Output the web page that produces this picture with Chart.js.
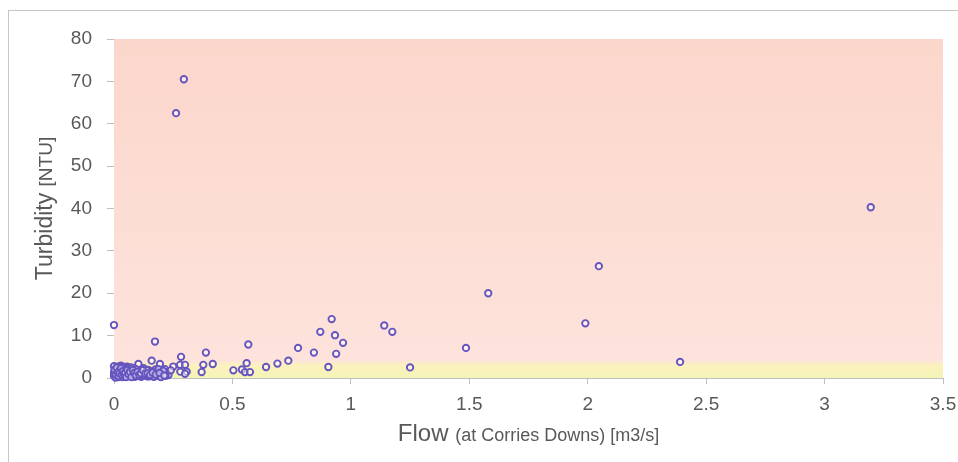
<!DOCTYPE html>
<html>
<head>
<meta charset="utf-8">
<script src="https://cdn.jsdelivr.net/npm/chart.js@4"></script>
<style>
  html, body { margin: 0; padding: 0; background: #fff; overflow: hidden; }
  #wrap { position: relative; width: 958px; height: 462px; }
  #frame { position: absolute; left: 8px; top: 10px; width: 1000px; height: 500px; border: 1px solid #c6c6c6; box-sizing: border-box; }
  canvas { position: absolute; left: 0; top: 0; }
</style>
</head>
<body>
<div id="wrap">
  <div id="frame"></div>
  <canvas id="chart" width="958" height="462"></canvas>
</div>
<script>
// Flow (m3/s) and turbidity (NTU)
const flow = [
  0.295, 0.262, 3.195, 2.047, 1.58, 1.99, 2.39,
  1.141, 1.175, 1.25, 1.486,
  0.919, 0.871, 0.933, 0.967, 0.938, 0.905, 0.844, 0.777, 0.736, 0.69, 0.642,
  0.567, 0.56, 0.54, 0.553, 0.574, 0.504,
  0.388, 0.417, 0.377, 0.37, 0.283, 0.279, 0.3, 0.25, 0.28, 0.307, 0.3,
  0, 0.173, 0.159, 0.103, 0.194,
  0, 0, 0.005, 0.008, 0.01, 0.012, 0.015, 0.018, 0.02, 0.022, 0.025, 0.028, 0.03, 0.032,
  0.035, 0.038, 0.04, 0.043, 0.046, 0.05, 0.052, 0.055, 0.058, 0.06, 0.064, 0.068, 0.072,
  0.076, 0.08, 0.085, 0.09, 0.095, 0.1, 0.105, 0.11, 0.115, 0.12, 0.125, 0.13, 0.135,
  0.14, 0.145, 0.15, 0.155, 0.16, 0.165, 0.17, 0.175, 0.18, 0.185, 0.19, 0.195, 0.2,
  0.205, 0.21, 0.215, 0.22, 0.23, 0.24,
  0, 0.003, 0.006, 0.01, 0.014, 0.017, 0.021, 0.024, 0.027, 0.031, 0.036, 0.041, 0.045,
  0.048, 0.053, 0.057, 0.062, 0.066, 0.07, 0.074, 0.078, 0.083, 0.088, 0.093, 0.098,
  0.108, 0.118, 0.128, 0.138, 0.148, 0.158, 0.168, 0.178, 0.188, 0.198, 0.208, 0.218,
  0.002, 0.007, 0.011, 0.016, 0.019, 0.023, 0.029, 0.033, 0.037, 0.042, 0.047, 0.051,
  0.056, 0.061, 0.067, 0.073, 0.079, 0.086, 0.092, 0.099, 0.107, 0.113, 0.122, 0.132,
  0.142, 0.152, 0.162, 0.176, 0.192, 0.212
];
const turbidity = [
  70.5, 62.5, 40.3, 26.4, 20.0, 12.9, 3.8,
  12.4, 10.9, 2.5, 7.1,
  13.9, 10.9, 10.1, 8.3, 5.7, 2.6, 6.0, 7.1, 4.1, 3.4, 2.6,
  7.9, 3.5, 2.0, 1.4, 1.4, 1.8,
  6.0, 3.3, 3.1, 1.4, 5.0, 3.1, 3.1, 2.7, 1.5, 1.5, 1.0,
  12.5, 8.6, 4.1, 3.3, 3.3,
  0.5, 1.2, 2.0, 0.3, 1.6, 2.6, 0.9, 0.2, 1.3, 2.2, 0.6, 1.8, 2.9, 0.4,
  1.0, 2.4, 1.5, 0.7, 2.0, 0.3, 1.2, 2.7, 0.9, 1.7, 0.5, 2.2, 1.1,
  0.4, 1.6, 0.8, 2.0, 1.3, 0.5, 1.8, 1.0, 0.3, 1.5, 2.3, 0.8, 1.2,
  0.4, 1.9, 0.9, 1.4, 0.6, 1.6, 1.1, 2.0, 0.5, 1.3, 0.9, 1.7, 0.4,
  1.2, 0.8, 2.1, 1.4, 0.7, 1.8,
  2.8, 1.5, 0.1, 2.3, 0.6, 1.9, 0.5, 2.8, 1.1, 2.0, 0.2, 2.6, 0.9,
  2.2, 1.7, 0.6, 2.4, 1.0, 2.5, 0.8, 2.4, 1.2, 0.3, 2.1, 0.7,
  1.3, 2.0, 0.6, 1.8, 0.4, 1.0, 0.3, 1.4, 2.1, 0.2, 1.7, 0.5,
  1.9, 0.8, 2.5, 1.4, 0.4, 1.1, 2.3, 0.7, 1.6, 0.9, 1.3, 0.2,
  1.9, 0.9, 1.5, 0.2, 1.9, 1.2, 0.6, 1.5, 0.7, 1.1, 1.8, 1.0,
  1.1, 0.7, 1.3, 0.8, 1.2, 0.6
];
const xTicks = [0, 0.5, 1, 1.5, 2, 2.5, 3, 3.5];
const yTicks = [0, 10, 20, 30, 40, 50, 60, 70, 80];
// background bands (NTU): yellow below, pink above
const bandLimits = [0, 3, 4.2, 80];

const points = flow.map((x, i) => ({ x: x, y: turbidity[i] }));
const txt = "#595959";
const axisCol = "#bfbfbf";
const font = "'Liberation Sans', Arial, sans-serif";

// Plot area fill
const bgPlugin = {
  id: "bg",
  beforeDatasetsDraw(chart) {
    const { ctx, chartArea: a, scales: { y } } = chart;
    const g = ctx.createLinearGradient(0, a.bottom, 0, a.top);
    const f = v => (a.bottom - y.getPixelForValue(v)) / (a.bottom - a.top);
    g.addColorStop(f(bandLimits[0]), "#f4f4b6");
    g.addColorStop(f(bandLimits[1]), "#fbf1bd");
    g.addColorStop(f(bandLimits[2]), "#fde3dc");
    g.addColorStop(f(bandLimits[3]), "#fbd6cb");
    ctx.save();
    ctx.fillStyle = g;
    ctx.fillRect(a.left, a.top, a.right - a.left, a.bottom - a.top);
    ctx.restore();
  }
};

// Axis titles with a larger main word and smaller unit text
function mixedText(ctx, parts, cx, cy) {
  let total = 0;
  parts.forEach(p => { ctx.font = p.size + "px " + font; p.w = ctx.measureText(p.t).width; total += p.w; });
  let x = cx - total / 2;
  parts.forEach(p => { ctx.font = p.size + "px " + font; ctx.fillText(p.t, x, cy); x += p.w; });
}
const titlePlugin = {
  id: "titles",
  afterDraw(chart) {
    const { ctx, chartArea: a } = chart;
    ctx.save();
    ctx.fillStyle = txt;
    ctx.textAlign = "left";
    ctx.textBaseline = "alphabetic";
    mixedText(ctx, [{ t: "Flow ", size: 24 }, { t: "(at Corries Downs) [m3/s]", size: 18 }], (a.left + a.right) / 2, 441);
    ctx.translate(52, (a.top + a.bottom) / 2);
    ctx.rotate(-Math.PI / 2);
    mixedText(ctx, [{ t: "Turbidity ", size: 23 }, { t: "[NTU]", size: 19 }], 0, 0);
    ctx.restore();
  }
};

new Chart(document.getElementById("chart"), {
  type: "scatter",
  data: {
    datasets: [{
      data: points,
      clip: false,
      pointRadius: 3.2,
      pointHoverRadius: 3.2,
      borderWidth: 1.9,
      borderColor: "#6654bf",
      backgroundColor: "rgba(255,255,255,0.5)"
    }]
  },
  options: {
    responsive: false,
    animation: false,
    layout: { padding: { top: 39, right: 15, left: 0, bottom: 0 } },
    plugins: { legend: { display: false }, tooltip: { enabled: false } },
    scales: {
      x: {
        type: "linear",
        min: 0, max: 3.5,
        afterBuildTicks: s => { s.ticks = xTicks.map(v => ({ value: v })); },
        afterFit: s => { s.height = 84; s.paddingRight = 0; s.paddingLeft = 0; },
        grid: { drawOnChartArea: false, drawTicks: true, tickLength: 6, color: axisCol },
        border: { color: axisCol, width: 1 },
        ticks: { color: txt, padding: 9, font: { family: font, size: 19 }, maxRotation: 0, callback: v => String(v) }
      },
      y: {
        min: 0, max: 80,
        afterBuildTicks: s => { s.ticks = yTicks.map(v => ({ value: v })); },
        afterFit: s => { s.width = 114; },
        grid: { drawOnChartArea: false, drawTicks: true, tickLength: 7, color: axisCol },
        border: { color: "#e8d0c8", width: 1 },
        ticks: { color: txt, padding: 15, font: { family: font, size: 19 } }
      }
    }
  },
  plugins: [bgPlugin, titlePlugin]
});
</script>
</body>
</html>
